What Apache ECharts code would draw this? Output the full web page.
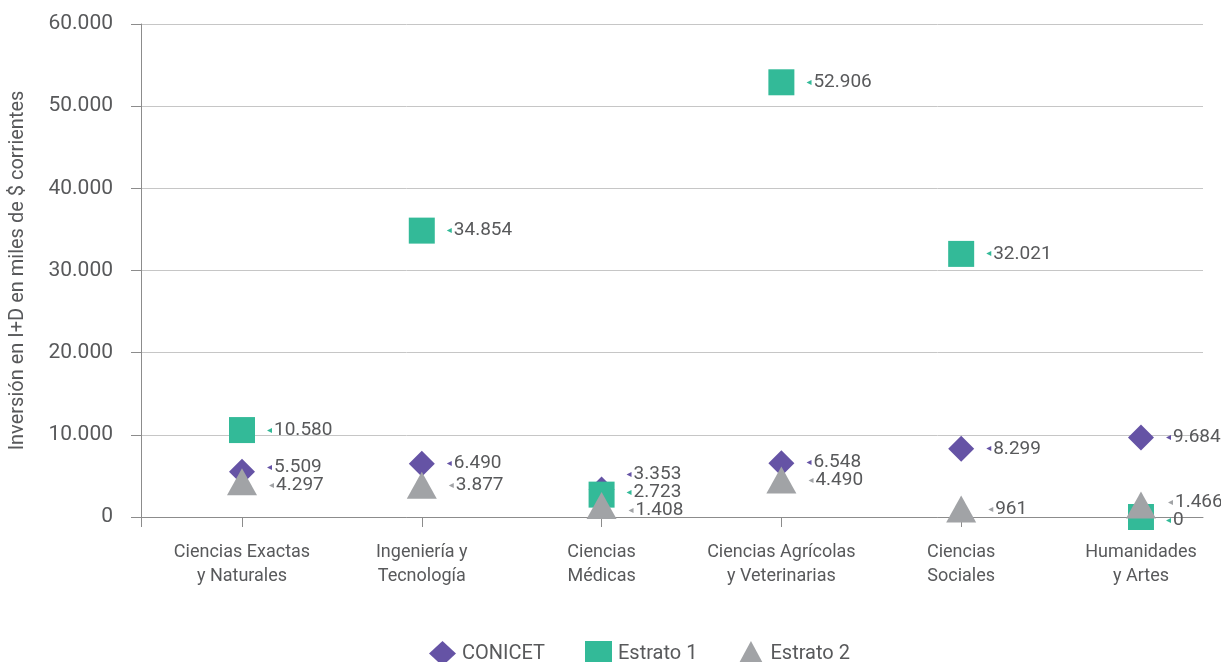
<!DOCTYPE html>
<html>
<head>
<meta charset="utf-8">
<script src="https://cdn.jsdelivr.net/npm/echarts@6/dist/echarts.min.js"></script>
<style>
  html, body { margin: 0; padding: 0; background: #fff; }
  #chart { width: 1221px; height: 662px; }
</style>
</head>
<body>
<div id="chart"></div>
<script>
const categories = [
    'Ciencias Exactas\ny Naturales',
    'Ingeniería y\nTecnología',
    'Ciencias\nMédicas',
    'Ciencias Agrícolas\ny Veterinarias',
    'Ciencias\nSociales',
    'Humanidades\ny Artes'
];
const seriesNames = ['CONICET', 'Estrato 1', 'Estrato 2'];
const conicet = [5509, 6490, 3353, 6548, 8299, 9684];
const estrato1 = [10580, 34854, 2723, 52906, 32021, 0];
const estrato2 = [4297, 3877, 1408, 4490, 961, 1466];
const yTicks = [0, 10000, 20000, 30000, 40000, 50000, 60000];

const colors = ['#6553a5', '#33ba98', '#a1a3a6'];
const textColor = '#58595b';
const yMax = 60000;
const plotHeight = 493;
const labelGap = 18;

function fmt(v) {
    return String(v).replace(/\B(?=(\d{3})+(?!\d))/g, '.');
}

// separa las etiquetas que se superponen dentro de una misma categoría
function spreadOffsets(valuesBySeries) {
    const offsets = valuesBySeries.map(() => []);
    for (let c = 0; c < categories.length; c++) {
        const items = valuesBySeries.map((vals, s) => ({s: s, y: -vals[c] / yMax * plotHeight}))
            .sort((a, b) => a.y - b.y);
        let groups = items.map(it => ({items: [it], mean: it.y}));
        let merged = true;
        while (merged) {
            merged = false;
            for (let k = 0; k < groups.length - 1; k++) {
                const g1 = groups[k], g2 = groups[k + 1];
                const end1 = g1.mean + (g1.items.length - 1) * labelGap / 2;
                const start2 = g2.mean - (g2.items.length - 1) * labelGap / 2;
                if (start2 - end1 < labelGap) {
                    const all = g1.items.concat(g2.items);
                    groups.splice(k, 2, {items: all, mean: all.reduce((a, i) => a + i.y, 0) / all.length});
                    merged = true;
                    break;
                }
            }
        }
        groups.forEach(g => {
            // los grupos de tres suben un poco, como en el original
            const lift = g.items.length > 2 ? 4 : 0;
            const start = g.mean - (g.items.length - 1) * labelGap / 2 - lift;
            g.items.forEach((it, j) => {
                offsets[it.s][c] = start + j * labelGap - it.y;
            });
        });
    }
    return offsets;
}

const allValues = [conicet, estrato1, estrato2];
const labelOffsets = spreadOffsets(allValues);
const symbols = ['diamond', 'rect', 'triangle'];
const symbolSizes = [[26, 26], [26, 26], [30, 27]];

const xMin = -0.5617;
const xMax = 5.345;

const myChart = echarts.init(document.getElementById('chart'));

const option = {
    backgroundColor: '#fff',
    animation: false,
    textStyle: {fontFamily: 'Roboto'},
    color: colors,
    grid: {
        left: 141,
        right: 18,
        top: 24,
        bottom: 145,
        containLabel: false,
        outerBoundsMode: 'none'
    },
    legend: {
        left: 424,
        top: 636,
        itemWidth: 27,
        itemHeight: 25,
        itemGap: 40,
        data: seriesNames,
        textStyle: {
            color: textColor,
            fontSize: 20,
            fontFamily: 'Roboto',
            padding: [0, 0, 0, 1]
        }
    },
    xAxis: {
        type: 'value',
        min: xMin,
        max: xMax,
        splitLine: {show: false},
        axisLine: {show: true, onZero: false, lineStyle: {color: '#8c8c8c', width: 1}},
        axisTick: {
            show: true,
            length: 10,
            customValues: [xMin, 0, 1, 2, 3, 4, 5],
            lineStyle: {color: '#8c8c8c'}
        },
        axisLabel: {
            customValues: [0, 1, 2, 3, 4, 5],
            formatter: function (value) {
                return categories[Math.round(value)];
            },
            color: textColor,
            fontSize: 18,
            lineHeight: 24,
            margin: 23
        }
    },
    yAxis: {
        type: 'value',
        min: 0,
        max: yMax,
        interval: 10000,
        name: 'Inversión en I+D en miles de $ corrientes',
        nameLocation: 'middle',
        nameGap: 113,
        nameTextStyle: {color: textColor, fontSize: 20},
        axisLine: {show: true, onZero: false, lineStyle: {color: '#8c8c8c', width: 1}},
        axisTick: {show: true, length: 10, lineStyle: {color: '#8c8c8c'}},
        splitLine: {show: true, lineStyle: {color: '#c6c6c6', width: 1}},
        axisLabel: {
            customValues: yTicks,
            formatter: function (value) {
                return fmt(value);
            },
            color: textColor,
            fontSize: 21,
            margin: 28
        }
    },
    series: allValues.map(function (vals, s) {
        return {
            name: seriesNames[s],
            type: 'scatter',
            symbol: symbols[s],
            symbolSize: symbolSizes[s],
            itemStyle: {color: colors[s], opacity: 1},
            data: vals.map((v, i) => [i, v]),
            label: {
                show: true,
                position: 'right',
                distance: 12,
                formatter: function (p) {
                    return '{m|◂}{v|' + fmt(p.value[1]) + '}';
                },
                rich: {
                    m: {color: colors[s], fontSize: 10, padding: [0, 2, 0, 0], fontFamily: 'DejaVu Sans'},
                    v: {color: textColor, fontSize: 19, fontFamily: 'Roboto'}
                }
            },
            labelLayout: function (params) {
                return {dy: labelOffsets[s][params.dataIndex]};
            },
            z: 2 + s
        };
    })
};

myChart.setOption(option);
window.onresize = function () {
    myChart.resize();
};
</script>
</body>
</html>
